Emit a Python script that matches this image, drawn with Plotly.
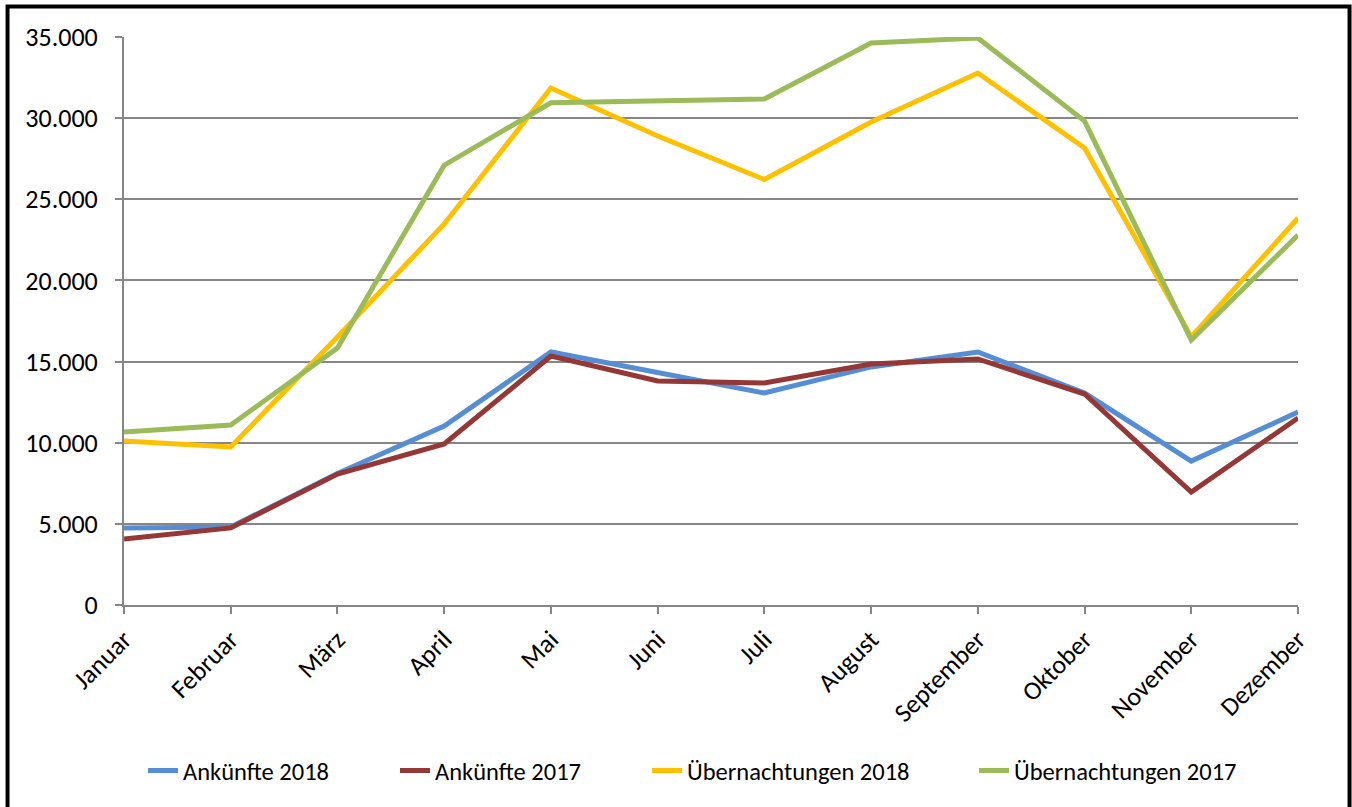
import plotly.graph_objects as go

months = ["Januar", "Februar", "März", "April", "Mai", "Juni", "Juli",
          "August", "September", "Oktober", "November", "Dezember"]

ankuenfte_2018 = [4750, 4800, 8100, 11030, 15590, 14360, 13060, 14670, 15590, 13060, 8870, 11890]
ankuenfte_2017 = [4070, 4750, 8070, 9920, 15340, 13800, 13680, 14850, 15160, 13000, 6960, 11520]
uebern_2018 = [10100, 9740, 16520, 23480, 31860, 28900, 26220, 29760, 32780, 28160, 16520, 23850]
uebern_2017 = [10660, 11090, 15840, 27100, 30950, 31100, 31180, 34630, 34940, 29820, 16330, 22800]

series = [
    ("Ankünfte 2018", ankuenfte_2018, "#558ED5"),
    ("Ankünfte 2017", ankuenfte_2017, "#953735"),
    ("Übernachtungen 2018", uebern_2018, "#FFC000"),
    ("Übernachtungen 2017", uebern_2017, "#9BBB59"),
]

# one legend per series so the entries can be spread like the original
legend_x = [143, 395, 647, 974]

fig = go.Figure()
legends = {}
for i, (name, vals, color) in enumerate(series):
    key = f"legend{i + 2}"
    fig.add_trace(go.Scatter(
        x=months, y=vals, name=name, mode="lines",
        line=dict(color=color, width=5), legend=key, showlegend=True,
    ))
    legends[key] = dict(
        xref="container", x=legend_x[i] / 1352, xanchor="left",
        yref="container", y=0.045, yanchor="middle",
        font=dict(size=24.5), itemwidth=30, bgcolor="rgba(0,0,0,0)",
    )

font = "Carlito, Calibri, Noto Sans, sans-serif"
grid = "#868686"

fig.update_layout(
    width=1352, height=807,
    margin=dict(l=124, r=54, t=37, b=202, autoexpand=False),
    paper_bgcolor="white", plot_bgcolor="white",
    separators=",.",
    showlegend=True,
    font=dict(family=font, size=24, color="black"),
    shapes=[dict(
        type="rect", xref="paper", yref="paper",
        x0=-0.0992, x1=1.0439, y0=-0.4, y1=1.0537,
        line=dict(color="black", width=4), layer="below",
    )],
    **legends,
)

fig.update_xaxes(
    type="category", range=[0, 11], tickangle=-45,
    showline=True, linecolor=grid, linewidth=2,
    ticks="outside", ticklen=7, tickcolor=grid, tickwidth=2,
    showgrid=False, tickfont=dict(size=26),
)
fig.update_yaxes(
    range=[0, 35000], dtick=5000, tickformat=",d",
    showline=True, linecolor=grid, linewidth=2,
    ticks="outside", ticklen=7, tickcolor=grid, tickwidth=2,
    showgrid=True, gridcolor=grid, gridwidth=2,
    zeroline=False, tickfont=dict(size=26), ticklabelstandoff=12,
)

# the page body has a default 8px margin; drop it so the frame sits like the original
fig.write_html(
    "out.html",
    config={"displayModeBar": False},
    post_script="document.body.style.margin='0px';",
)
